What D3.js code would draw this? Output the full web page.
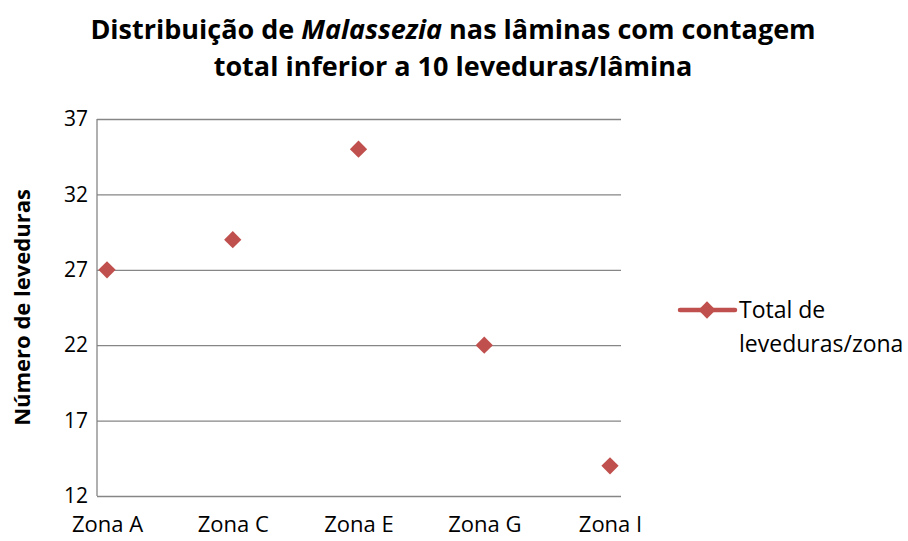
<!DOCTYPE html>
<html lang="pt">
<head>
  <meta charset="UTF-8">
  <title>Distribuição de Malassezia</title>
  <script src="https://d3js.org/d3.v7.min.js"></script>
  <style>
    body { margin: 0; background: #fff; }
    text { font-family: "Open Sans", "Noto Sans", sans-serif; fill: #000; }
  </style>
</head>
<body>
<svg id="chart" width="908" height="541"></svg>
<script>
// data
const zonas = ["Zona A", "Zona C", "Zona E", "Zona G", "Zona I"];
const totais = [27, 29, 35, 22, 14];
const yTicks = [12, 17, 22, 27, 32, 37];
const serieNome = ["Total de", "leveduras/zona"];

const svg = d3.select("#chart");
const red = "#C0504D";
const grid = "#868686";

// plot frame
const plot = {left: 97, right: 621, top: 119, bottom: 496};

const x = d3.scalePoint()
  .domain(zonas)
  .range([107, 610]);

const y = d3.scaleLinear()
  .domain([12, 37])
  .range([plot.bottom, plot.top]);

// title
const title = svg.append("text")
  .attr("x", 453)
  .attr("y", 39)
  .attr("text-anchor", "middle")
  .style("font-size", "27px")
  .style("font-weight", "bold");
title.append("tspan").text("Distribuição de ");
title.append("tspan").style("font-style", "italic").text("Malassezia");
title.append("tspan").text(" nas lâminas com contagem");
svg.append("text")
  .attr("x", 453)
  .attr("y", 76)
  .attr("text-anchor", "middle")
  .style("font-size", "27px")
  .style("font-weight", "bold")
  .text("total inferior a 10 leveduras/lâmina");

// gridlines + y axis
const yAxis = svg.append("g")
  .attr("transform", `translate(${plot.left},0)`)
  .call(d3.axisLeft(y).tickValues(yTicks).tickSize(-(plot.right - plot.left)).tickPadding(9));
yAxis.select(".domain").remove();
yAxis.selectAll(".tick line")
  .attr("stroke", grid)
  .attr("stroke-width", 1.3);
yAxis.selectAll(".tick text")
  .style("font-size", "21px")
  .attr("fill", "#000");

svg.append("line")
  .attr("x1", plot.left).attr("x2", plot.left)
  .attr("y1", plot.top).attr("y2", plot.bottom)
  .attr("stroke", grid)
  .attr("stroke-width", 1.3);

// x labels
const xAxis = svg.append("g")
  .attr("transform", `translate(0,${plot.bottom})`)
  .call(d3.axisBottom(x).tickSize(0).tickPadding(20));
xAxis.select(".domain").remove();
xAxis.selectAll(".tick text")
  .style("font-size", "22px")
  .attr("fill", "#000");

// y title
svg.append("text")
  .attr("transform", `translate(30,${(plot.top + plot.bottom) / 2}) rotate(-90)`)
  .attr("text-anchor", "middle")
  .style("font-size", "22px")
  .style("font-weight", "bold")
  .text("Número de leveduras");

// markers
const diamond = d3.symbol().type(d3.symbolDiamond2).size(190);
svg.append("g")
  .selectAll("path")
  .data(totais)
  .join("path")
  .attr("d", diamond)
  .attr("transform", (d, i) => `translate(${x(zonas[i])},${y(d)})`)
  .attr("fill", red);

// legend
const lg = svg.append("g").attr("transform", "translate(680,310)");
lg.append("line")
  .attr("x1", 0).attr("x2", 55)
  .attr("stroke", red)
  .attr("stroke-width", 4.5)
  .attr("stroke-linecap", "round");
lg.append("path")
  .attr("d", diamond)
  .attr("transform", "translate(27,0)")
  .attr("fill", red);
lg.selectAll("text.leg")
  .data(serieNome)
  .join("text")
  .attr("class", "leg")
  .attr("x", 59)
  .attr("y", (d, i) => 8 + i * 34)
  .style("font-size", "23px")
  .text(d => d);
</script>
</body>
</html>
